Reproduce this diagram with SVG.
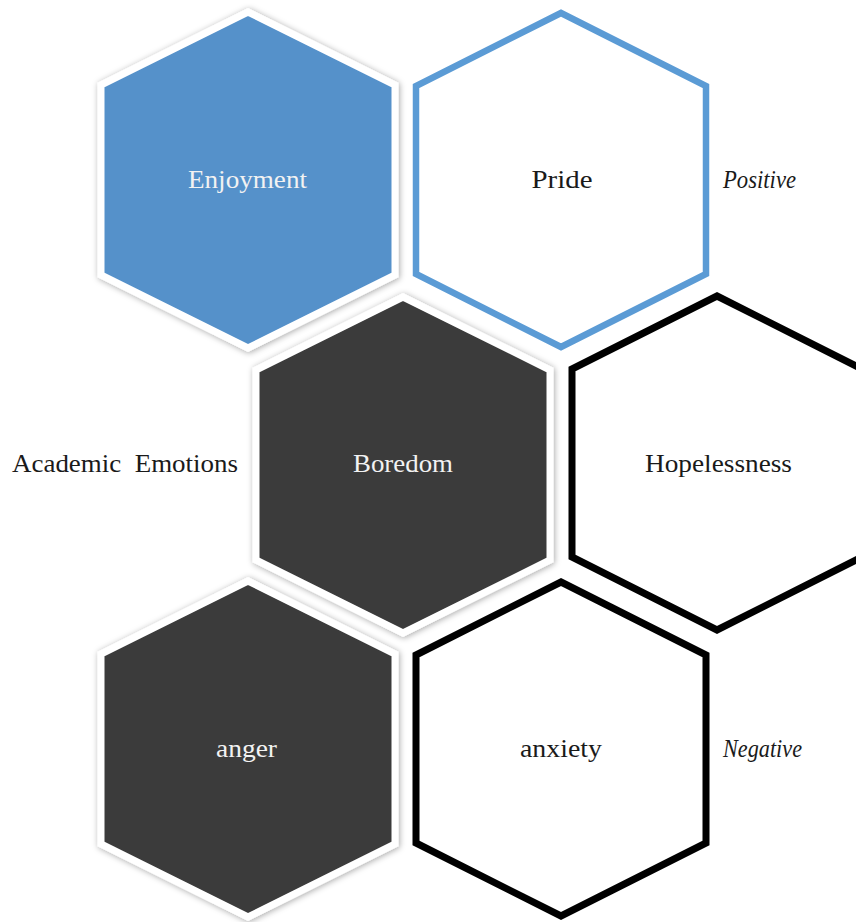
<svg xmlns="http://www.w3.org/2000/svg" width="856" height="922" viewBox="0 0 856 922">
<defs>
<filter id="sh" x="-10%" y="-10%" width="120%" height="120%">
<feDropShadow dx="1" dy="1" stdDeviation="3" flood-color="#000" flood-opacity="0.35"/>
</filter>
<style>
.filled{stroke:#fff;stroke-width:7;stroke-linejoin:miter;filter:url(#sh)}
.blue{fill:#5591CA}
.dark{fill:#3A3A3A}
.outB{fill:#fff;stroke:#5B9BD5;stroke-width:6.5;stroke-linejoin:miter}
.outK{fill:#fff;stroke:#000;stroke-width:7;stroke-linejoin:miter}
.lbl{font-family:"Liberation Serif","Times New Roman",serif;font-size:25px;text-anchor:middle}
.lt{fill:#f2f2f2}
.dk{fill:#1a1a1a}
.side{font-family:"Liberation Serif","Times New Roman",serif;font-size:25px;fill:#1a1a1a}
</style>
</defs>
<rect width="856" height="922" fill="#fff"/>
<g id="connectors"/>
<g id="pride">
<polygon class="outB" points="561,13 706,86 706,274 561,347 416,274 416,86"/>
<text class="lbl dk" x="562" y="188" textLength="61" lengthAdjust="spacingAndGlyphs">Pride</text>
</g>
<g id="hopelessness">
<polygon class="outK" points="717,296 862,369 862,557 717,630 572,557 572,369"/>
<text class="lbl dk" x="718.5" y="472" textLength="147" lengthAdjust="spacingAndGlyphs">Hopelessness</text>
</g>
<g id="anxiety">
<polygon class="outK" points="561,582 706,655 706,843 561,916 416,843 416,655"/>
<text class="lbl dk" x="561" y="757" textLength="82" lengthAdjust="spacingAndGlyphs">anxiety</text>
</g>
<g id="enjoyment">
<polygon class="filled blue" points="248,12 395,85 395,275 248,348 101,275 101,85"/>
<text class="lbl lt" x="247.5" y="188" textLength="119" lengthAdjust="spacingAndGlyphs">Enjoyment</text>
</g>
<g id="boredom">
<polygon class="filled dark" points="403,297 550,370 550,560 403,633 256,560 256,370"/>
<text class="lbl lt" x="403" y="472" textLength="100" lengthAdjust="spacingAndGlyphs">Boredom</text>
</g>
<g id="anger">
<polygon class="filled dark" points="248,581 395,654 395,844 248,917 101,844 101,654"/>
<text class="lbl lt" x="246.5" y="757" textLength="61" lengthAdjust="spacingAndGlyphs">anger</text>
</g>
<g id="labels">
<text class="side" x="12" y="472" fill="#000" textLength="226" lengthAdjust="spacingAndGlyphs" xml:space="preserve">Academic  Emotions</text>
<text class="side" x="723" y="188" font-style="italic" textLength="73" lengthAdjust="spacingAndGlyphs">Positive</text>
<text class="side" x="723" y="757" font-style="italic" textLength="79" lengthAdjust="spacingAndGlyphs">Negative</text>
</g>
</svg>
